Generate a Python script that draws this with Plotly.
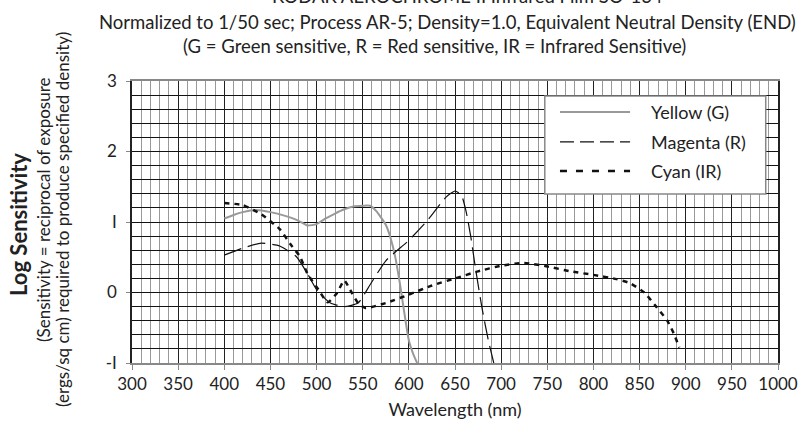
import plotly.graph_objects as go

# Data
yellow_nm = [400, 410, 420, 435, 450, 465, 480, 490, 500, 510, 520, 530, 540, 550, 558, 565, 570, 575, 580, 585, 590, 595, 600, 605, 609]
yellow_v = [1.05, 1.10, 1.14, 1.17, 1.14, 1.09, 1.02, 0.95, 0.97, 1.05, 1.12, 1.18, 1.22, 1.23, 1.23, 1.15, 1.06, 0.96, 0.78, 0.52, 0.15, -0.28, -0.68, -0.88, -1.0]

magenta_nm = [400, 420, 440, 460, 478, 490, 500, 515, 530, 545, 558, 575, 600, 620, 640, 650, 657, 662, 667, 672, 679, 686, 692]
magenta_v = [0.53, 0.63, 0.70, 0.66, 0.51, 0.27, 0.04, -0.15, -0.20, -0.15, 0.11, 0.45, 0.74, 1.02, 1.35, 1.44, 1.38, 1.15, 0.80, 0.36, -0.20, -0.67, -1.0]

cyan_nm = [400, 420, 440, 460, 472, 482, 490, 502, 512, 522, 530, 538, 545, 553, 575, 600, 625, 650, 675, 700, 725, 750, 775, 800, 825, 840, 855, 868, 880, 887, 893]
cyan_v = [1.27, 1.24, 1.11, 0.90, 0.68, 0.51, 0.27, 0.04, -0.14, -0.01, 0.17, 0.0, -0.15, -0.22, -0.15, -0.03, 0.10, 0.20, 0.30, 0.38, 0.42, 0.37, 0.30, 0.25, 0.19, 0.13, 0.0, -0.20, -0.40, -0.58, -0.78]

series_names = ["Yellow (G)", "Magenta (R)", "Cyan (IR)"]

x_ticks = [300, 350, 400, 450, 500, 550, 600, 650, 700, 750, 800, 850, 900, 950, 1000]
y_ticks = [-1, 0, 1, 2, 3]
y_tick_text = ["-I", "0", "I", "2", "3"]

FONT = "Lato, 'Open Sans', sans-serif"
TXT = "#222222"

styles = [
    dict(color="#999999", width=2, dash="solid"),
    dict(color="#111111", width=1.2, dash="18px,7px"),
    dict(color="#111111", width=2.5, dash="5px,5px"),
]

fig = go.Figure()
for nm, v, name, st in zip([yellow_nm, magenta_nm, cyan_nm], [yellow_v, magenta_v, cyan_v], series_names, styles):
    fig.add_trace(go.Scatter(x=nm, y=v, mode="lines", name=name, showlegend=False,
                             line=dict(color=st["color"], width=st["width"], dash=st["dash"],
                                       shape="spline", smoothing=0.5)))

fig.update_layout(
    width=801, height=424,
    margin=dict(l=132, r=23, t=81, b=61),
    paper_bgcolor="white", plot_bgcolor="white",
    font=dict(family=FONT, size=17, color=TXT),
    showlegend=False,
)

fig.update_xaxes(
    range=[300, 1000], tickvals=x_ticks, ticktext=[str(v) for v in x_ticks],
    showgrid=True, gridcolor="#222222", gridwidth=1,
    minor=dict(dtick=10, showgrid=True, gridcolor="#999999", gridwidth=1.2),
    ticks="outside", ticklen=5, tickcolor="#888888", tickwidth=1,
    showline=True, linecolor="#888888", linewidth=1.5, mirror=True,
    zeroline=False, tickfont=dict(size=17, color=TXT), automargin=False,
    title=dict(text="Wavelength (nm)", font=dict(size=18, color=TXT), standoff=10),
)
fig.update_yaxes(
    range=[-1, 3], tickvals=y_ticks, ticktext=y_tick_text,
    showgrid=True, gridcolor="#111111", gridwidth=1,
    minor=dict(dtick=0.2, showgrid=True, gridcolor="#111111", gridwidth=1),
    ticks="outside", ticklen=4, tickcolor="#888888", ticklabelstandoff=6,
    showline=True, linecolor="#222222", linewidth=1.5, mirror=True,
    zeroline=False, tickfont=dict(size=17, color=TXT), automargin=False,
)

# Plot area in pixels: x 132..778, y 81..363
annots = [
    dict(text="KODAK AEROCHROME II Infrared Film SO-134", x=0.52, y=1.0, yshift=81 + 4,
         xanchor="center", yanchor="middle", font=dict(size=18.5)),
    dict(text="Normalized to 1/50 sec; Process AR-5; Density=1.0, Equivalent Neutral Density (END)",
         x=-0.054, y=1.0, yshift=81 - 22, xanchor="left", yanchor="middle", font=dict(size=18.5)),
    dict(text="(G = Green sensitive, R = Red sensitive, IR = Infrared Sensitive)",
         x=0.469, y=1.0, yshift=81 - 46, xanchor="center", yanchor="middle", font=dict(size=18.5)),
    dict(text="<b>Log Sensitivity</b>", x=0, xshift=-132 + 18, y=0.5, yshift=-3, xanchor="center",
         yanchor="middle", textangle=-90, font=dict(size=22)),
    dict(text="(Sensitivity = reciprocal of exposure", x=0, xshift=-132 + 43, y=0.5, yshift=12,
         xanchor="center", yanchor="middle", textangle=-90, font=dict(size=17)),
    dict(text="(ergs/sq cm) required to produce specified density)", x=0, xshift=-132 + 62, y=0.5,
         yshift=2, xanchor="center", yanchor="middle", textangle=-90, font=dict(size=17)),
]

# Custom legend box (paper coordinates)
leg_x0, leg_x1, leg_y0, leg_y1 = 0.639, 0.981, 0.599, 0.947
samp_x0, samp_x1, text_x = 0.6625, 0.771, 0.800
row_y = [0.890, 0.784, 0.681]
fig.add_shape(type="rect", xref="paper", yref="paper", x0=leg_x0, x1=leg_x1, y0=leg_y0, y1=leg_y1,
              fillcolor="white", line=dict(color="#888888", width=1.5), layer="above")
legend_dash = ["solid", "14px,6px", "7px,9px"]
for name, st, ry, ld in zip(series_names, styles, row_y, legend_dash):
    fig.add_shape(type="line", xref="paper", yref="paper", x0=samp_x0, x1=samp_x1, y0=ry, y1=ry,
                  line=dict(color=st["color"], width=st["width"], dash=ld), layer="above")
    annots.append(dict(text=name, x=text_x, y=ry, xanchor="left", yanchor="middle",
                       font=dict(size=18)))

for a in annots:
    a.update(xref="paper", yref="paper", showarrow=False)
    fig.add_annotation(**a)

fig.write_html("out.html", config={"displayModeBar": False},
               post_script="document.body.style.margin='0';")
